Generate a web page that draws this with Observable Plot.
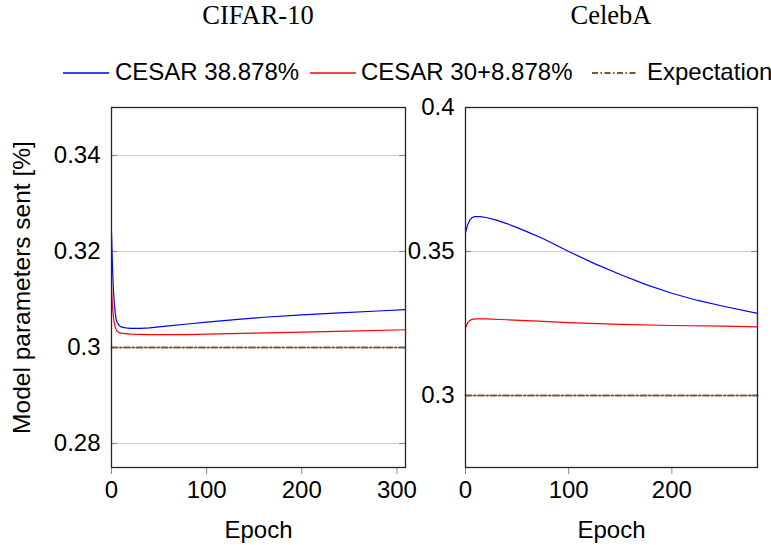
<!DOCTYPE html>
<html>
<head>
<meta charset="utf-8">
<script src="https://cdn.jsdelivr.net/npm/d3@7"></script>
<script src="https://cdn.jsdelivr.net/npm/@observablehq/plot@0.6"></script>
<style>
  body { margin: 0; background: #fff; }
  #wrap { position: relative; width: 771px; height: 545px; overflow: hidden; font-family: "Liberation Sans", Arial, sans-serif; }
  .title { position: absolute; top: 0; font-family: "Liberation Serif", serif; font-size: 26.5px; transform: translateX(-50%); white-space: nowrap; }
  .leg { position: absolute; font-size: 24px; line-height: 28px; top: 58px; white-space: nowrap; }
  .sw { position: absolute; top: 58px; }
  .plot { position: absolute; top: 95px; }
</style>
</head>
<body>
<div id="wrap"></div>
<script>
// ---- data ----
const panelTitles = ["CIFAR-10", "CelebA"];
const seriesNames = ["CESAR 38.878%", "CESAR 30+8.878%", "Expectation"];
const seriesColors = ["#0000ff", "#ff0000", "#7d5632"];

const cifarEpochsBlue = [0,1,2,3,4,5,6,8,10,15,20,30,40,60,80,100,130,160,200,240,280,309];
const cifarBlue =       [0.324,0.317,0.312,0.309,0.307,0.3058,0.3052,0.3046,0.3043,0.3041,0.3040,0.3040,0.3041,0.3045,0.3049,0.3053,0.3058,0.3063,0.3068,0.3072,0.3076,0.3079];
const cifarEpochsRed =  [0,1,2,3,4,5,6,8,10,15,20,40,60,80,100,150,200,250,309];
const cifarRed =        [0.3123,0.3085,0.3065,0.305,0.3042,0.3037,0.3034,0.3031,0.3030,0.3029,0.3028,0.3027,0.3027,0.3027,0.3028,0.3030,0.3032,0.3034,0.3037];
const cifarEpochsExp =  [0,309];
const cifarExp =        [0.3,0.3];

const celebEpochsBlue = [0,2,4,6,9,14,20,30,40,50,60,75,100,125,150,175,200,225,250,283];
const celebBlue =       [0.3565,0.3592,0.3608,0.3617,0.3621,0.3621,0.3618,0.3609,0.3597,0.3583,0.3568,0.3545,0.3500,0.3458,0.3420,0.3385,0.3355,0.3330,0.3310,0.3285];
const celebEpochsRed =  [0,2,4,6,10,20,40,70,100,150,200,250,283];
const celebRed =        [0.3235,0.3252,0.3260,0.3264,0.3266,0.3266,0.3263,0.3258,0.3253,0.3247,0.3243,0.3241,0.3238];
const celebEpochsExp =  [0,283];
const celebExp =        [0.3,0.3];

const cifarYTicks = [0.28,0.30,0.32,0.34];
const celebYTicks = [0.30,0.35,0.40];
const cifarXTicks = [0,100,200,300];
const celebXTicks = [0,100,200];
const xLabel = "Epoch";
const yLabel = "Model parameters sent [%]";

// ---- helpers ----
const zip = (xs, ys) => xs.map((x, i) => ({epoch: x, value: ys[i]}));
const fmt = d => String(+d.toFixed(3));
const dashExp = "6,2.5,1.5,2.5";

function panel({width, marginLeft, marginRight, xDomain, yDomain, yTicks, xTicks, series, withYLabel}) {
  const height = 450, marginTop = 12, marginBottom = 78;
  const innerW = width - marginLeft - marginRight;
  const marks = [
    Plot.gridY(yTicks, {stroke: "#cfcfcf", strokeOpacity: 1, strokeWidth: 1.2}),
    Plot.ruleY(yTicks, {stroke: "#8c8c8c", strokeWidth: 1.2, insetRight: innerW - 6}),
    Plot.ruleY(yTicks, {stroke: "#8c8c8c", strokeWidth: 1.2, insetLeft: innerW - 6}),
    Plot.axisY(yTicks, {tickSize: 0, tickPadding: 11, tickFormat: fmt, label: null, fontSize: 24}),
    Plot.axisX(xTicks, {tickSize: 7, tickPadding: 6, stroke: "#8c8c8c", label: null, fontSize: 24}),
    Plot.text([xLabel], {frameAnchor: "bottom", dy: 63, fontSize: 24, lineAnchor: "middle"}),
  ];
  series.forEach((s, i) => {
    marks.push(Plot.line(s, {x: "epoch", y: "value", stroke: seriesColors[i],
      strokeWidth: i === 2 ? 2 : 1.2,
      strokeDasharray: i === 2 ? dashExp : null}));
  });
  marks.push(Plot.frame({stroke: "#262626", strokeWidth: 1.3}));
  if (withYLabel) {
    marks.push(Plot.text([yLabel], {frameAnchor: "left", dx: -89, rotate: -90, fontSize: 24.5,
      textAnchor: "middle", lineAnchor: "middle"}));
  }
  return Plot.plot({
    width, height, marginLeft, marginRight, marginTop, marginBottom,
    style: {fontFamily: "Liberation Sans, Arial, sans-serif", fontSize: "24px", color: "#000", background: "transparent", overflow: "visible"},
    x: {domain: xDomain},
    y: {domain: yDomain},
    marks
  });
}

const wrap = document.getElementById("wrap");

const left = panel({
  width: 420, marginLeft: 111, marginRight: 15,
  xDomain: [0, 309], yDomain: [0.275, 0.35],
  yTicks: cifarYTicks, xTicks: cifarXTicks, withYLabel: true,
  series: [zip(cifarEpochsBlue, cifarBlue), zip(cifarEpochsRed, cifarRed), zip(cifarEpochsExp, cifarExp)]
});
left.classList.add("plot");
left.style.left = "0px";
wrap.appendChild(left);

const right = panel({
  width: 371, marginLeft: 65, marginRight: 14,
  xDomain: [0, 283], yDomain: [0.275, 0.4],
  yTicks: celebYTicks, xTicks: celebXTicks, withYLabel: false,
  series: [zip(celebEpochsBlue, celebBlue), zip(celebEpochsRed, celebRed), zip(celebEpochsExp, celebExp)]
});
right.classList.add("plot");
right.style.left = "400px";
wrap.appendChild(right);

// titles
[[panelTitles[0], 258], [panelTitles[1], 611]].forEach(([t, cx]) => {
  const d = document.createElement("div");
  d.className = "title"; d.textContent = t; d.style.left = cx + "px";
  wrap.appendChild(d);
});

// legend
const legendPos = [[63, 115], [310, 361], [592, 647]];
seriesNames.forEach((name, i) => {
  const [sx, tx] = legendPos[i];
  const ns = "http://www.w3.org/2000/svg";
  const svg = document.createElementNS(ns, "svg");
  svg.setAttribute("width", 46); svg.setAttribute("height", 28);
  svg.setAttribute("class", "sw");
  svg.style.left = sx + "px";
  const ln = document.createElementNS(ns, "line");
  ln.setAttribute("x1", 0); ln.setAttribute("x2", 46);
  ln.setAttribute("y1", 15); ln.setAttribute("y2", 15);
  ln.setAttribute("stroke", seriesColors[i]);
  ln.setAttribute("stroke-width", i === 2 ? 1.8 : 1.3);
  if (i === 2) ln.setAttribute("stroke-dasharray", dashExp);
  svg.appendChild(ln);
  wrap.appendChild(svg);
  const t = document.createElement("div");
  t.className = "leg"; t.textContent = name; t.style.left = tx + "px";
  wrap.appendChild(t);
});
</script>
</body>
</html>
